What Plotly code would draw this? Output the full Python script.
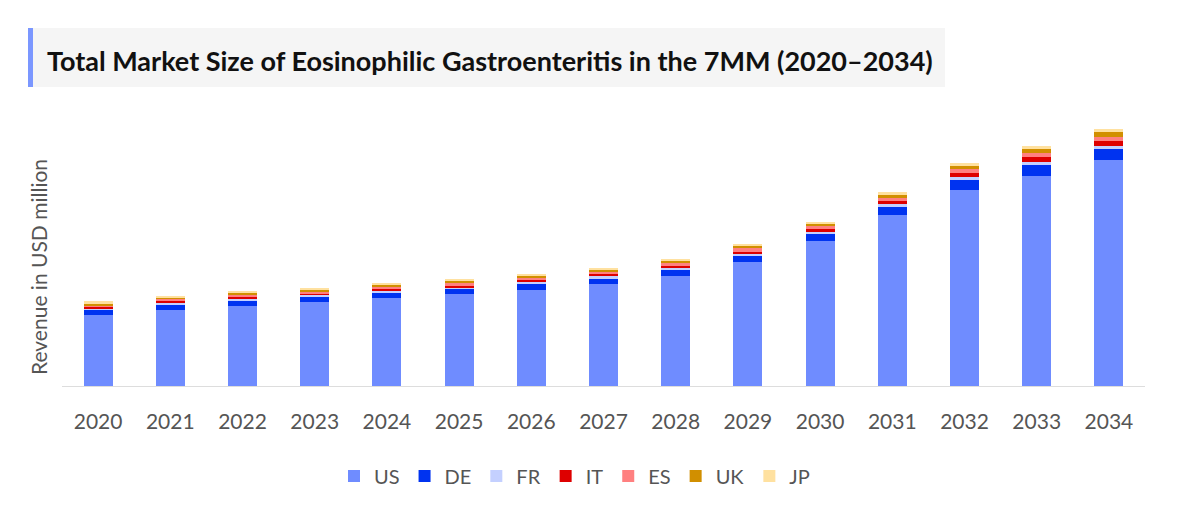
import plotly.graph_objects as go

years = [str(y) for y in range(2020, 2035)]
countries = ["US", "DE", "FR", "IT", "ES", "UK", "JP"]
colors = ["#6f8cff", "#0033f0", "#c4d0ff", "#de0000", "#ff8080", "#d18f00", "#ffe1a0"]

# Revenue in USD million
US = [71.0, 76.0, 80.3, 84.0, 87.7, 92.0, 96.3, 102.0, 110.0, 124.3, 145.0, 170.7, 196.0, 210.0, 225.7]
DE = [5.3, 5.0, 5.0, 5.3, 5.6, 5.0, 5.7, 5.3, 6.0, 6.0, 6.7, 8.6, 10.0, 11.0, 11.3]
FR = [1.3, 1.7, 1.7, 1.7, 1.7, 1.7, 2.0, 2.7, 2.3, 2.0, 2.0, 2.4, 2.7, 3.3, 3.3]
IT = [1.4, 2.3, 2.0, 1.7, 1.7, 1.6, 1.7, 2.0, 2.0, 2.0, 3.3, 3.6, 4.6, 4.7, 5.0]
ES = [1.6, 2.0, 2.3, 1.6, 2.3, 3.0, 2.0, 1.7, 2.7, 3.4, 2.7, 3.0, 3.4, 4.0, 3.7]
UK = [1.6, 1.7, 2.0, 2.3, 2.0, 2.0, 2.6, 2.3, 2.0, 2.3, 2.3, 2.7, 3.6, 4.0, 5.0]
JP = [2.4, 1.3, 1.4, 1.3, 1.7, 1.7, 1.7, 1.7, 2.0, 2.0, 2.3, 2.7, 2.4, 3.0, 2.7]

series = [US, DE, FR, IT, ES, UK, JP]

W, H = 1200, 519
OFF = 8  # page offset of the figure in the browser
L, R, T = 62 - OFF, W - (1145 - OFF), 110 - OFF
B = H - (386 - OFF)
PW, PH = W - L - R, H - T - B
YMAX = PH  # 1 unit per pixel


def px(x):
    # x given in screenshot pixels
    return (x - OFF - L) / PW


def py(y):
    return (H - B - (y - OFF)) / PH


fig = go.Figure()
for name, vals, col in zip(countries, series, colors):
    fig.add_trace(go.Bar(x=years, y=vals, name=name, marker=dict(color=col, line=dict(width=0))))

font_family = "Lato, 'Open Sans', sans-serif"
fig.update_layout(
    width=W, height=H,
    barmode="stack", bargap=0.6,
    plot_bgcolor="white", paper_bgcolor="white",
    margin=dict(l=L, r=R, t=T, b=B, autoexpand=False),
    font=dict(family=font_family, color="#555555", size=20),
    xaxis=dict(showline=True, linecolor="#dddddd", linewidth=1, showgrid=False,
               ticks="", tickfont=dict(size=21, color="#555555"), ticklabelstandoff=17,
               fixedrange=True),
    yaxis=dict(range=[0, YMAX], showticklabels=False, showgrid=False, zeroline=False,
               showline=False, fixedrange=True),
    legend=dict(orientation="h", x=px(574.5), xanchor="center", y=py(476), yanchor="middle",
                font=dict(size=20, color="#555555"), itemwidth=30, traceorder="normal"),
    showlegend=True,
    shapes=[
        dict(type="rect", xref="paper", yref="paper", x0=px(28), x1=px(945), y0=py(28), y1=py(87),
             fillcolor="#f5f5f5", line=dict(width=0), layer="below"),
        dict(type="rect", xref="paper", yref="paper", x0=px(28), x1=px(33), y0=py(28), y1=py(87),
             fillcolor="#7b97ff", line=dict(width=0)),
    ],
    annotations=[
        dict(text="<b>Total Market Size of Eosinophilic Gastroenteritis in the 7MM (2020–2034)</b>",
             xref="paper", yref="paper", x=px(45), y=py(60), xanchor="left", yanchor="middle",
             showarrow=False, font=dict(size=27, color="#111111", family=font_family)),
        dict(text="Revenue in USD million", xref="paper", yref="paper", x=px(38), y=py(267),
             xanchor="center", yanchor="middle", textangle=-90, showarrow=False,
             font=dict(size=21, color="#555555", family=font_family)),
    ],
)

fig.write_html("out.html")
